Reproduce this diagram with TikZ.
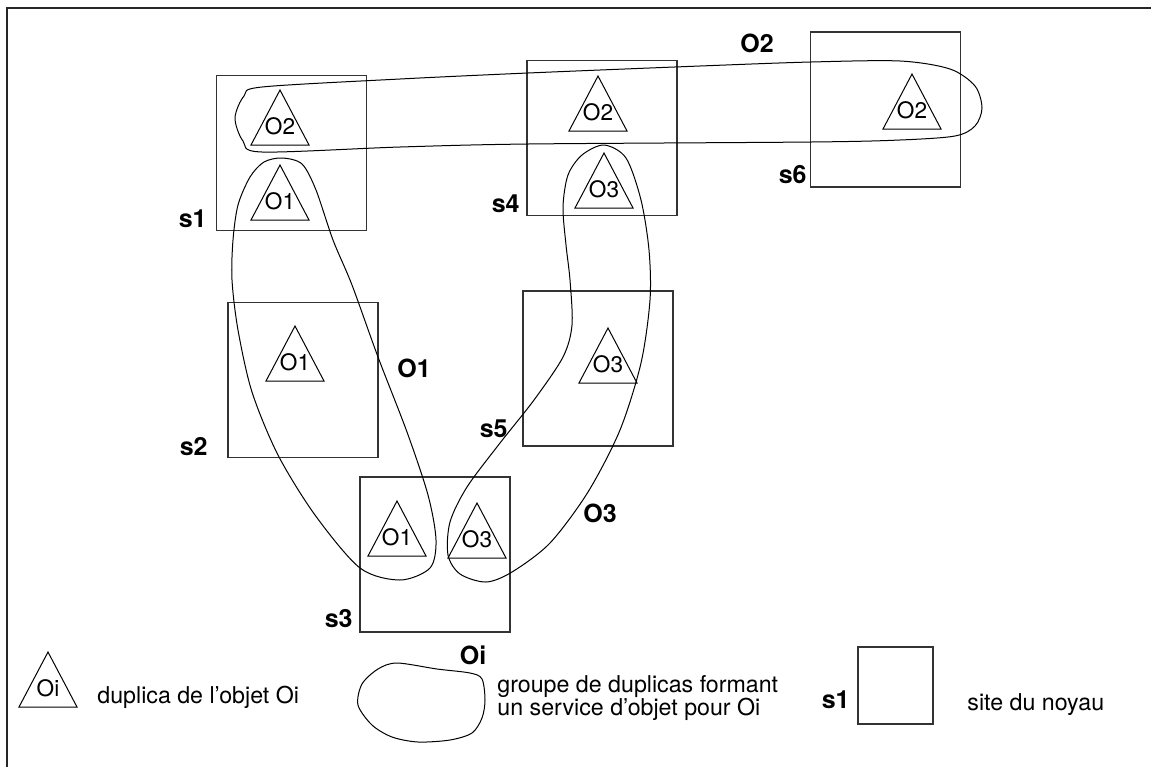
\documentclass[tikz,border=0pt]{standalone}
\usepackage{fontspec}
\setmainfont{TeX Gyre Heros}

% styles du schéma
\tikzset{
  site/.style={draw=black!80, line width=0.7pt, minimum width=75pt, minimum height=77.5pt, inner sep=0pt},
  nom/.style={font=\fontsize{12.5}{14}\selectfont\bfseries, inner sep=0pt},
  dup/.style={font=\fontsize{11.3}{13}\selectfont, inner sep=0pt},
  legende/.style={font=\fontsize{11.6}{13}\selectfont, inner sep=0pt},
  groupe/.style={line width=0.5pt, smooth cycle},
}

% duplica : nom, sommet x, sommet y, texte
\newcommand{\duplica}[4]{%
  \draw[line width=0.5pt] (#2,#3) -- ++(29,55) -- ++(-58,0) -- cycle;
  \node[dup] (#1) at (#2,#3+36) {#4};
}

\begin{document}
\begin{tikzpicture}[x=0.5pt, y=-0.5pt]
\useasboundingbox (0,0) rectangle (1151,767);

% cadre
\draw[line width=1pt, black!85] (7,767) -- (7,8) -- (1151,8);

% sites du noyau
\node[site] (s1) at (291.5,153) {};
\node[site] (s4) at (602,138) {};
\node[site] (s6) at (885.5,109.5) {};
\node[site] (s2) at (303,380) {};
\node[site] (s5) at (598,368.5) {};
\node[site] (s3) at (435,554.5) {};

\node[nom, anchor=base east] (ns1) at (207,227) {s1};
\node[nom, anchor=base east] (ns4) at (520,212) {s4};
\node[nom, anchor=base east] (ns6) at (807,183) {s6};
\node[nom, anchor=base east] (ns2) at (208,455) {s2};
\node[nom, anchor=base east] (ns5) at (508,437) {s5};
\node[nom, anchor=base east] (ns3) at (353,627) {s3};

% duplicas
\duplica{d1a}{280}{90}{O2}
\duplica{d1b}{280}{165}{O1}
\duplica{d4a}{598}{76}{O2}
\duplica{d4b}{604}{153}{O3}
\duplica{d6a}{912}{74}{O2}
\duplica{d2a}{295}{326}{O1}
\duplica{d5a}{608}{328}{O3}
\duplica{d3a}{397}{501}{O1}
\duplica{d3b}{477}{503}{O3}

% groupes de duplicas
\draw[groupe] plot coordinates {(235,118) (244,96) (262,87) (400,79) (528,73) (700,66) (811,62) (900,61) (950,69) (975,86) (982,108) (975,126) (955,136) (900,140) (811,142) (528,144) (400,147) (262,152) (243,141)};
\draw[groupe] plot coordinates {(282,158) (302,164) (316,190) (333,240) (352,285) (378,357) (407,432) (428,495) (436,540) (430,568) (400,580) (360,568) (315,515) (278,455) (252,392) (238,330) (232,280) (233,240) (238,205) (250,177) (264,162)};
\draw[groupe] plot coordinates {(604,145) (626,158) (641,200) (649,250) (650,300) (641,363) (620,430) (588,492) (550,543) (512,572) (486,582) (460,574) (448,555) (450,522) (467,487) (500,443) (534,400) (563,357) (572,325) (570,280) (566,245) (563,207) (568,175) (582,155)};

\node[nom] (gO2) at (757,43) {O2};
\node[nom] (gO1) at (414,368) {O1};
\node[nom] (gO3) at (600,513) {O3};

% légende
\duplica{dl}{48}{652}{Oi}
\node[legende, anchor=base west] (t1) at (97,703) {duplica de l'objet Oi};

\draw[groupe] plot coordinates {(397,663) (437,669) (470,673) (482,679) (485,700) (482,718) (472,733) (450,740) (418,742) (392,737) (372,725) (358,705) (362,684) (378,669)};
\node[nom] (gOi) at (473,655) {Oi};
\node[legende, anchor=base west] (t2) at (497,692) {groupe de duplicas formant};
\node[legende, anchor=base west] (t3) at (497,715) {un service d'objet pour Oi};

\node[site, minimum width=37.5pt, minimum height=38.5pt] (sl) at (895.5,685.5) {};
\node[nom, anchor=base east] (nsl) at (850,708) {s1};
\node[legende, anchor=base west] (t4) at (967,710) {site du noyau};
\end{tikzpicture}
\end{document}
